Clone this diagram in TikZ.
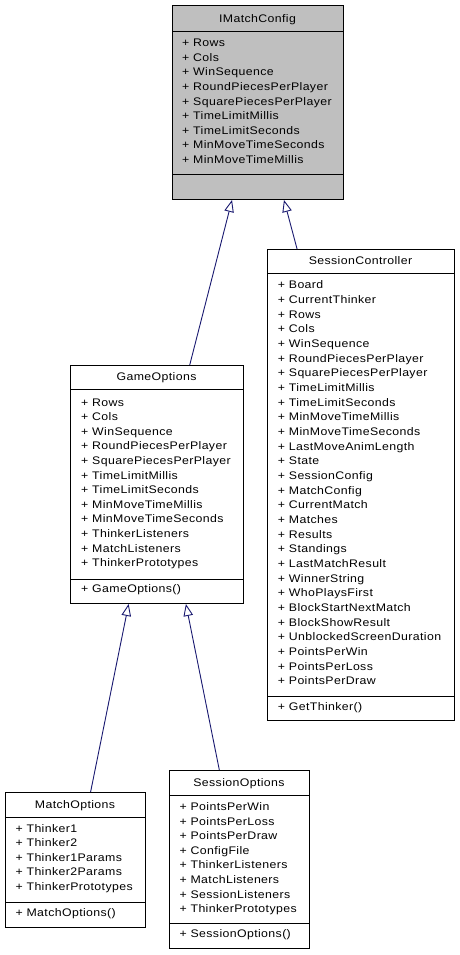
\documentclass[tikz,border=0pt]{standalone}
\usepackage{fontspec}
\setmainfont{Liberation Sans}[FakeStretch=1.12, LetterSpace=3.5]
\usetikzlibrary{arrows.meta,calc}
\definecolor{edgeblue}{HTML}{191970}
\definecolor{hdrgray}{HTML}{BFBFBF}
\tikzset{
  classbox/.style={draw=black, line width=1pt, rectangle, inner sep=0pt, anchor=north west},
  sepline/.style={draw=black, line width=1pt},
  item/.style={anchor=base west, inner sep=0pt, font=\fontsize{11}{13}\selectfont},
  ctitle/.style={anchor=base, inner sep=0pt, font=\fontsize{11}{13}\selectfont},
  inherit/.style={draw=edgeblue, line width=0.9pt, -{Triangle[open, length=12pt, width=9.5pt]}}
}
\begin{document}
\begin{tikzpicture}[x=1pt,y=-1pt]
\useasboundingbox (0,0) rectangle (459,955);

% IMatchConfig
\node[classbox, fill=hdrgray, minimum width=171pt, minimum height=194pt] (imc) at (172,5) {};
\draw[sepline] (172,32) -- (343,32);
\draw[sepline] (172,174) -- (343,174);
\node[ctitle] (imct) at (257.5,22.3) {IMatchConfig};
\foreach \t [count=\i from 0] in {Rows,Cols,WinSequence,RoundPiecesPerPlayer,SquarePiecesPerPlayer,TimeLimitMillis,TimeLimitSeconds,MinMoveTimeSeconds,MinMoveTimeMillis}
  \node[item] (imc\i) at (182,46.7+\i*14.6) {+ \t};

% SessionController
\node[classbox, fill=white, minimum width=187pt, minimum height=471pt] (sc) at (267,249) {};
\draw[sepline] (267,273) -- (454,273);
\draw[sepline] (267,696) -- (454,696);
\node[ctitle] (sct) at (360.5,264.8) {SessionController};
\foreach \t [count=\i from 0] in {Board,CurrentThinker,Rows,Cols,WinSequence,RoundPiecesPerPlayer,SquarePiecesPerPlayer,TimeLimitMillis,TimeLimitSeconds,MinMoveTimeMillis,MinMoveTimeSeconds,LastMoveAnimLength,State,SessionConfig,MatchConfig,CurrentMatch,Matches,Results,Standings,LastMatchResult,WinnerString,WhoPlaysFirst,BlockStartNextMatch,BlockShowResult,UnblockedScreenDuration,PointsPerWin,PointsPerLoss,PointsPerDraw}
  \node[item] (sc\i) at (277.7,288.8+\i*14.67) {+ \t};
\node[item] (scm) at (277.7,710.8) {+ GetThinker()};

% GameOptions
\node[classbox, fill=white, minimum width=173pt, minimum height=238pt] (go) at (70,365) {};
\draw[sepline] (70,389) -- (243,389);
\draw[sepline] (70,579) -- (243,579);
\node[ctitle] (got) at (156.5,380.8) {GameOptions};
\foreach \t [count=\i from 0] in {Rows,Cols,WinSequence,RoundPiecesPerPlayer,SquarePiecesPerPlayer,TimeLimitMillis,TimeLimitSeconds,MinMoveTimeMillis,MinMoveTimeSeconds,ThinkerListeners,MatchListeners,ThinkerPrototypes}
  \node[item] (go\i) at (81,406.1+\i*14.6) {+ \t};
\node[item] (gom) at (81,592.8) {+ GameOptions()};

% MatchOptions
\node[classbox, fill=white, minimum width=140pt, minimum height=135pt] (mo) at (5,792) {};
\draw[sepline] (5,817) -- (145,817);
\draw[sepline] (5,902) -- (145,902);
\node[ctitle] (mot) at (75,808.3) {MatchOptions};
\foreach \t [count=\i from 0] in {Thinker1,Thinker2,Thinker1Params,Thinker2Params,ThinkerPrototypes}
  \node[item] (mo\i) at (15.4,832.1+\i*14.6) {+ \t};
\node[item] (mom) at (15.4,916.5) {+ MatchOptions()};

% SessionOptions
\node[classbox, fill=white, minimum width=140pt, minimum height=178pt] (so) at (169,770) {};
\draw[sepline] (169,795) -- (309,795);
\draw[sepline] (169,923) -- (309,923);
\node[ctitle] (sot) at (239,786.3) {SessionOptions};
\foreach \t [count=\i from 0] in {PointsPerWin,PointsPerLoss,PointsPerDraw,ConfigFile,ThinkerListeners,MatchListeners,SessionListeners,ThinkerPrototypes}
  \node[item] (so\i) at (179.4,810.5+\i*14.6) {+ \t};
\node[item] (som) at (179.4,937.8) {+ SessionOptions()};

% inheritance arrows
\draw[inherit] ($(go.north west)!0.688!(go.north east)$) -- ($(imc.south west)!0.349!(imc.south east)$);
\draw[inherit] ($(sc.north west)!0.160!(sc.north east)$) -- ($(imc.south west)!0.651!(imc.south east)$);
\draw[inherit] ($(mo.north west)!0.607!(mo.north east)$) -- ($(go.south west)!0.337!(go.south east)$);
\draw[inherit] ($(so.north west)!0.357!(so.north east)$) -- ($(go.south west)!0.666!(go.south east)$);
\end{tikzpicture}
\end{document}
